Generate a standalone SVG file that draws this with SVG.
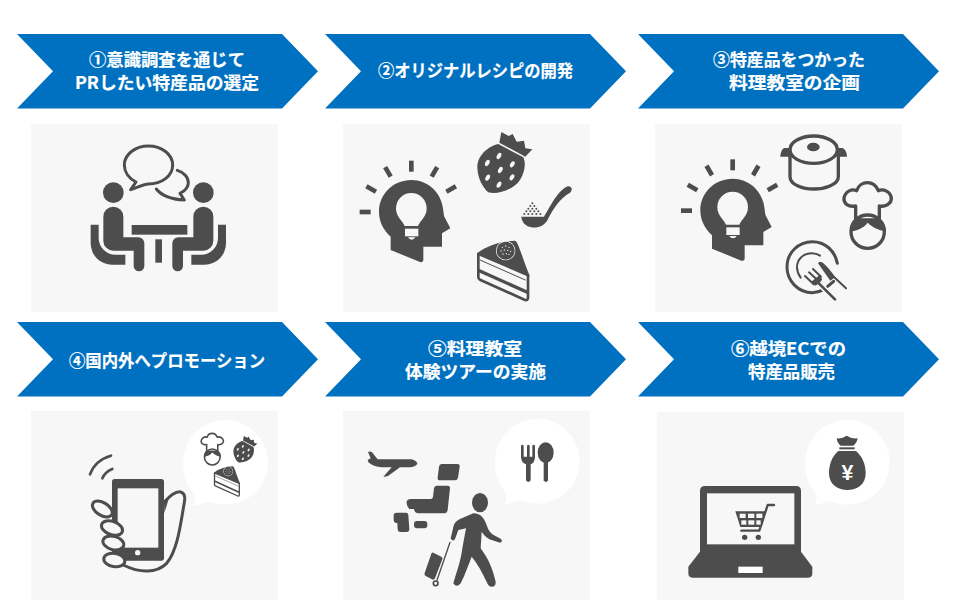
<svg xmlns="http://www.w3.org/2000/svg" xmlns:xlink="http://www.w3.org/1999/xlink" width="960" height="603" viewBox="0 0 960 603">
<style>
.ch{fill:#0070c0}
.pn{fill:#f7f7f7}
.t{font-family:"Noto Sans CJK JP","Noto Sans",sans-serif;font-weight:700;font-size:17.500px;fill:#fff;stroke:#fff;stroke-width:.2px}
.d{fill:#4d4d4d}
.o{fill:none;stroke:#4d4d4d;stroke-linecap:round;stroke-linejoin:round}
.w{fill:#fff}
.p{fill:#f7f7f7}
</style>
<defs>
<path id="chev" d="M0 0H265L301 37.200L265 74.500H0L36 37.200Z"/>
<g id="head">
<rect class="d" x="207" y="122" width="14" height="33"/>
<rect class="d" x="137" y="139" width="14" height="33" transform="rotate(-30 144 156)"/>
<rect class="d" x="87" y="190" width="14" height="33" transform="rotate(-60 94 207)"/>
<rect class="d" x="59" y="269" width="33" height="14"/>
<rect class="d" x="276" y="139" width="14" height="33" transform="rotate(30 283 156)"/>
<rect class="d" x="326" y="190" width="14" height="33" transform="rotate(60 333 207)"/>
<path class="d" d="M152 350C128 328 117 302 117 275C117 222 160 180 214 180C264 180 303 218 309 265L312 288L331 325L306 340V380H250V420Q250 428 240 426L152 390Z"/>
<path class="p" d="M194 318C186 300 168 290 168 265A46 46 0 0 1 260 265C260 290 242 300 234 318Z"/>
<rect class="p" x="195" y="326" width="40" height="23"/>
<path class="p" d="M204 352H226Q222 359 215 359Q208 359 204 352Z"/>
</g>
<g id="berry">
<path class="d" d="M475 72C440 80 412 110 412 140C412 175 430 205 445 217C470 225 520 210 540 180C555 155 558 130 550 112Z"/>
<path class="d" d="M478 68L484 36L506 48L518 42L530 65L552 62L556 85L577 88L556 110Z"/>
<g class="p">
<ellipse cx="477" cy="108" rx="6" ry="10" transform="rotate(30 477 108)"/>
<ellipse cx="517" cy="133" rx="6" ry="10" transform="rotate(30 517 133)"/>
<ellipse cx="442" cy="129" rx="6" ry="10" transform="rotate(30 442 129)"/>
<ellipse cx="481" cy="150" rx="6" ry="10" transform="rotate(30 481 150)"/>
<ellipse cx="443" cy="173" rx="6" ry="10" transform="rotate(30 443 173)"/>
<ellipse cx="516" cy="172" rx="6" ry="10" transform="rotate(30 516 172)"/>
<ellipse cx="477" cy="194" rx="6" ry="10" transform="rotate(30 477 194)"/>
</g>
</g>
<g id="cake">
<path class="o" stroke-width="8" d="M415 402V472Q415 477 420 479L555 540Q564 542 564 533V465"/>
<path class="d" d="M411 400C440 378 480 364 525 362C535 364 545 410 569 467L565 470L420 408L411 405Z"/>
<path class="o" stroke-width="3" d="M420 420L556 480"/>
<path class="o" stroke-width="10" d="M418 452L562 517" stroke-linecap="butt"/>
<circle cx="497" cy="392" r="29" class="p"/>
<circle cx="497" cy="392" r="27" class="d"/>
<g class="p"><circle cx="487" cy="382" r="2"/><circle cx="497" cy="378" r="2"/><circle cx="507" cy="382" r="2"/><circle cx="483" cy="393" r="2"/><circle cx="493" cy="390" r="2"/><circle cx="503" cy="391" r="2"/><circle cx="512" cy="394" r="2"/><circle cx="489" cy="402" r="2"/><circle cx="499" cy="401" r="2"/><circle cx="507" cy="403" r="2"/></g>
</g>
<g id="chef">
<path class="o" stroke-width="10" d="M617 295V258C595 262 580 250 582 235C585 215 605 205 620 212C625 195 640 188 652 188C670 188 680 200 685 212C700 205 722 215 724 235C725 250 705 262 688 258V295"/>
<circle class="o" stroke-width="10" cx="653" cy="335" r="50"/>
<path class="d" d="M600 335C600 310 612 295 620 295H686C700 300 708 320 708 335C690 330 670 325 653 308C640 325 620 332 600 335Z"/>
</g>
</defs>

<g id="connectors"></g>

<g id="step1">
<use xlink:href="#chev" href="#chev" class="ch" x="17" y="34"/>
<text class="t" x="89" y="66" textLength="156" lengthAdjust="spacingAndGlyphs">①意識調査を通じて</text>
<text class="t" x="75" y="89" textLength="184" lengthAdjust="spacingAndGlyphs">PRしたい特産品の選定</text>
<rect class="pn" x="31" y="124" width="247" height="188"/>
<g transform="translate(30 120) scale(.33333)">
<path class="o" stroke-width="9" d="M318 186C296 175 283 155 283 135C283 103 316 78 355 78C395 78 428 103 428 135C428 168 395 192 355 192C345 192 335 197 302 209Z"/>
<path class="o" stroke-width="9" d="M442 151C462 157 475 172 475 188C475 200 466 212 450 220L463 240C430 238 395 228 379 207" stroke-linecap="butt"/>
<g id="p1">
<circle class="d" cx="250" cy="218" r="31"/>
<path class="d" d="M220 290A30 30 0 0 1 280 290V352H325A18 18 0 0 1 343 370V438A16 16 0 0 1 311 438V392H250A30 30 0 0 1 220 362Z"/>
<path class="d" d="M182 314H206V354A50 50 0 0 0 256 404H286V434H246A64 64 0 0 1 182 370Z"/>
</g>
<use xlink:href="#p1" href="#p1" transform="translate(770 0) scale(-1 1)"/>
<rect class="d" x="305" y="315" width="167" height="29"/>
<rect class="d" x="376" y="358" width="20" height="70"/>
</g>
</g>

<g id="step2">
<use xlink:href="#chev" href="#chev" class="ch" x="325" y="34"/>
<text class="t" x="378" y="77" textLength="195" lengthAdjust="spacingAndGlyphs">②オリジナルレシピの開発</text>
<rect class="pn" x="343" y="124" width="247" height="188"/>
<g transform="translate(340 120) scale(.33333)">
<use xlink:href="#head" href="#head"/>
<use xlink:href="#berry" href="#berry"/>
<path class="d" d="M544 290H612C625 270 650 215 680 200C695 195 700 210 690 218C660 235 640 265 625 295C615 320 590 325 575 322C555 318 545 305 544 290Z"/>
<g class="d"><circle cx="577" cy="250" r="3"/><circle cx="571" cy="258" r="3"/><circle cx="583" cy="258" r="3"/><circle cx="565" cy="266" r="3"/><circle cx="577" cy="266" r="3"/><circle cx="589" cy="266" r="3"/><circle cx="559" cy="274" r="3"/><circle cx="571" cy="274" r="3"/><circle cx="583" cy="274" r="3"/><circle cx="595" cy="274" r="3"/><circle cx="553" cy="282" r="3"/><circle cx="565" cy="282" r="3"/><circle cx="577" cy="282" r="3"/><circle cx="589" cy="282" r="3"/><circle cx="601" cy="282" r="3"/></g>
<use xlink:href="#cake" href="#cake"/>
</g>
</g>

<g id="step3">
<use xlink:href="#chev" href="#chev" class="ch" x="638" y="34"/>
<text class="t" x="713" y="66" textLength="152" lengthAdjust="spacingAndGlyphs">③特産品をつかった</text>
<text class="t" x="729" y="89" textLength="131" lengthAdjust="spacingAndGlyphs">料理教室の企画</text>
<rect class="pn" x="655" y="124" width="247" height="188"/>
<g transform="translate(650 120) scale(.33333)">
<use xlink:href="#head" href="#head" x="34" y="-4"/>
<ellipse class="o" stroke-width="10" cx="491" cy="89" rx="71" ry="41"/>
<ellipse class="d" cx="490" cy="81" rx="19" ry="13"/>
<path class="d" d="M422 84H402Q392 90 391 110H424ZM560 84H578Q590 90 591 110H560Z"/>
<path class="o" stroke-width="10" d="M420 108V170C420 195 460 207 492 207C522 207 565 195 565 170V108"/>
<use xlink:href="#chef" href="#chef"/>
<path class="o" stroke-width="9" d="M522 508C510 515 500 518 487 518C445 518 411 483 411 441C411 398 445 365 487 365C525 365 555 392 562 430" stroke-linecap="butt"/>
<path class="o" stroke-width="6" d="M452 473C444 462 441 452 441 442C441 418 460 400 485 400C495 400 503 402 510 407" stroke-linecap="butt"/>
<path class="o" stroke-width="9" d="M533 499L551 484" stroke-linecap="butt"/>
<path d="M555 538L495 480" fill="none" stroke="#f7f7f7" stroke-width="16"/>
<path d="M470 455L515 480L490 500Z" fill="#f7f7f7" stroke="#f7f7f7" stroke-width="10"/>
<path class="o" stroke-width="8" d="M555 538L498 482"/>
<path class="o" stroke-width="6" d="M465 468L491 493M477 457L503 481M489 447L513 470" stroke-linecap="butt"/>
<path class="d" d="M483 486L510 464L516 478Q512 490 496 497Z"/>
<path class="o" stroke-width="6" d="M588 505L540 460"/>
<path class="d" d="M504 430Q508 422 516 427C530 437 545 455 555 472L541 482Z"/>
</g>
</g>

<g id="step4">
<use xlink:href="#chev" href="#chev" class="ch" x="17" y="322"/>
<text class="t" x="69" y="367" textLength="196" lengthAdjust="spacingAndGlyphs">④国内外へプロモーション</text>
<rect class="pn" x="31" y="411" width="247" height="189"/>
<g transform="translate(30 405) scale(.33333)">
<path class="w" d="M460 182A127 127 0 1 1 540 290L487 303Q505 275 487 262A127 127 0 0 1 460 182Z"/>
<path class="o" stroke-width="8" d="M180 208C190 180 215 160 243 152"/>
<path class="o" stroke-width="8" d="M217 220C222 208 235 197 247 192"/>
<rect class="d" x="246" y="222" width="156" height="245" rx="8"/>
<rect class="p" x="263" y="250" width="122" height="178"/>
<circle class="p" cx="323" cy="443" r="8"/>
<path class="o" stroke-width="9" d="M402 292C420 272 440 255 455 262C470 270 463 290 460 310C450 370 440 440 410 475C380 505 330 505 280 480"/>
<path class="d" d="M402 292L418 275L403 325Z"/>
<g fill="#f7f7f7" stroke="#4d4d4d" stroke-width="9">
<ellipse cx="217" cy="312" rx="33" ry="19" transform="rotate(32 217 312)"/>
<ellipse cx="246" cy="369" rx="33" ry="20" transform="rotate(20 246 369)"/>
<ellipse cx="250" cy="414" rx="32" ry="20" transform="rotate(15 250 414)"/>
<ellipse cx="253" cy="465" rx="32" ry="20" transform="rotate(10 253 465)"/>
</g>
<g transform="translate(240 -5) scale(.47 .48)"><use xlink:href="#chef" href="#chef"/></g>
<g transform="translate(431 77) scale(.435)"><use xlink:href="#berry" href="#berry"/></g>
<g transform="translate(346 3) scale(.5)"><use xlink:href="#cake" href="#cake"/></g>
</g>
</g>

<g id="step5">
<use xlink:href="#chev" href="#chev" class="ch" x="325" y="322"/>
<text class="t" x="428" y="355" textLength="94" lengthAdjust="spacingAndGlyphs">⑤料理教室</text>
<text class="t" x="405" y="378" textLength="141" lengthAdjust="spacingAndGlyphs">体験ツアーの実施</text>
<rect class="pn" x="343" y="411" width="247" height="189"/>
<g transform="translate(340 405) scale(.33333)">
<path class="w" d="M465 175A127 127 0 1 1 540 285L493 298Q505 275 493 258A127 127 0 0 1 465 175Z"/>
<path class="d" d="M543 122Q547 116 551 122V155H561V122Q565 116 569 122V155H577V122Q581 116 585 122V155Q585 172 572 178V226Q565 236 558 226V178Q543 172 543 155Z"/>
<ellipse class="d" cx="617" cy="143" rx="24" ry="31"/>
<path class="d" d="M611 165H624V226Q618 236 611 226Z"/>
<path class="d" d="M85 172L83 165L92 160L84 141Q92 137 96 142L113 163H215Q232 168 232 177Q225 186 210 187H180L145 212Q135 216 130 215L155 187H125Q100 185 85 172Z"/>
<path class="d" d="M305 177H352Q360 177 359 185L354 218Q352 226 344 226H300Q292 226 293 218L297 185Q298 177 305 177Z"/>
<path class="d" d="M290 242H322Q331 242 330 250L323 315Q321 325 312 325H236Q224 325 222 312H208Q198 300 200 290Q202 282 212 282H272Q278 282 279 275L282 250Q283 242 290 242Z"/>
<rect class="d" x="222" y="348" width="40" height="22" rx="9"/>
<path class="d" d="M170 323H198Q205 323 205 331L208 372Q208 381 200 381H182Q173 381 173 372L172 354H168Q161 352 161 345V331Q161 323 170 323Z"/>
<ellipse class="d" cx="420" cy="293" rx="24" ry="29"/>
<path class="d" d="M400 325C420 325 430 335 440 360C445 375 450 385 465 392L483 402Q490 410 480 413L455 405C440 400 432 390 425 380L422 430C440 455 455 480 467 530Q468 545 455 545Q445 545 440 530C425 500 415 480 395 455C385 480 375 510 362 535Q350 550 340 535C350 500 362 470 367 430L378 370L355 375L345 402Q338 412 332 400L338 375C342 355 345 350 360 342Z"/>
<path class="d" d="M280 443L304 455Q309 458 307 463L285 520Q282 526 276 523L256 512Q252 509 254 504L274 446Q276 441 280 443Z"/>
<path class="o" stroke-width="4" d="M330 412L291 526"/>
<circle class="o" stroke-width="5" cx="287" cy="535" r="7"/>
</g>
</g>

<g id="step6">
<use xlink:href="#chev" href="#chev" class="ch" x="638" y="322"/>
<text class="t" x="731" y="355" textLength="115" lengthAdjust="spacingAndGlyphs">⑥越境ECでの</text>
<text class="t" x="748" y="378" textLength="87" lengthAdjust="spacingAndGlyphs">特産品販売</text>
<rect class="pn" x="657" y="412" width="247" height="188"/>
<g transform="translate(650 405) scale(.33333)">
<path class="w" d="M465 178A127 127 0 1 1 540 288L493 301Q505 278 493 261A127 127 0 0 1 465 178Z"/>
<path class="d" d="M560 100Q575 102 590 92Q605 102 623 100Q620 115 610 122H572Q562 115 560 100Z"/>
<rect class="d" x="568" y="127" width="46" height="6"/>
<path class="d" d="M565 138C545 155 537 180 537 205C537 240 565 255 592 255C620 255 647 240 647 205C647 180 638 155 618 138Z"/>
<text x="592" y="226" font-family="Liberation Sans,sans-serif" font-weight="700" font-size="64" fill="#fff" text-anchor="middle">¥</text>
<path class="d" d="M150 440V258Q150 243 165 243H438Q453 243 453 258V440L487 485V505Q487 518 475 518H127Q115 518 115 505V485Z"/>
<rect class="p" x="171" y="265" width="262" height="153"/>
<rect class="w" x="265" y="485" width="73" height="19"/>
<path class="o" stroke-width="7" d="M372 300H353L328 377H274"/>
<path class="d" d="M256 319H348L335 366H271Z"/>
<g class="p"><rect x="269" y="326" width="18" height="13"/><rect x="294" y="326" width="19" height="13"/><rect x="319" y="326" width="18" height="13"/><rect x="274" y="346" width="15" height="13"/><rect x="295" y="346" width="18" height="13"/><rect x="319" y="346" width="13" height="13"/></g>
<circle class="d" cx="284" cy="397" r="8"/>
<circle class="d" cx="325" cy="397" r="8"/>
</g>
</g>
</svg>
